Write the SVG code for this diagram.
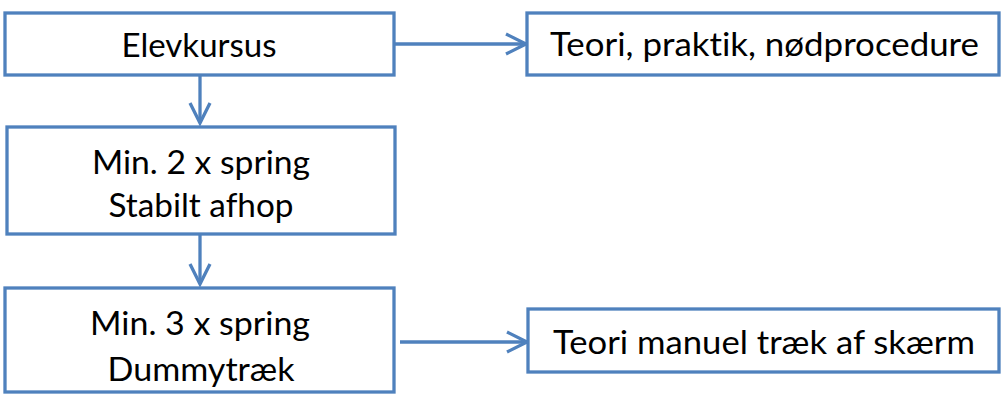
<svg xmlns="http://www.w3.org/2000/svg" width="1002" height="395" viewBox="0 0 1002 395">
<defs>
<style>
.box{fill:#ffffff;stroke:#4F81BD;stroke-width:3.3}
.conn{fill:none;stroke:#4F81BD;stroke-width:3.3}
.lbl{font-family:Lato,"Open Sans","Liberation Sans",sans-serif;font-size:32px;fill:#000000;text-anchor:middle;font-variant-ligatures:none}
</style>
<marker id="arr" viewBox="0 0 20 20" refX="20" refY="10" markerWidth="20" markerHeight="20" markerUnits="userSpaceOnUse" orient="auto" overflow="visible">
<path d="M0,0 L20,10 L0,20" fill="none" stroke="#4F81BD" stroke-width="3.3" stroke-linejoin="miter"/>
</marker>
</defs>
<rect width="1002" height="395" fill="#ffffff"/>
<g id="connectors">
<path class="conn" d="M394,44 H526" marker-end="url(#arr)"/>
<path class="conn" d="M200,75 V123" marker-end="url(#arr)"/>
<path class="conn" d="M200,234 V284" marker-end="url(#arr)"/>
<path class="conn" d="M400,342 H527" marker-end="url(#arr)"/>
</g>
<g id="node-elevkursus">
<rect class="box" x="5" y="13" width="389" height="62"/>
<text class="lbl" x="199" y="57" textLength="155" lengthAdjust="spacingAndGlyphs">Elevkursus</text>
</g>
<g id="node-teori-praktik">
<rect class="box" x="527" y="13" width="472" height="62"/>
<text class="lbl" x="764.5" y="56" textLength="429" lengthAdjust="spacingAndGlyphs">Teori, praktik, nødprocedure</text>
</g>
<g id="node-min2">
<rect class="box" x="7" y="127" width="388" height="107"/>
<text class="lbl" x="201" y="173.5" textLength="218" lengthAdjust="spacingAndGlyphs">Min. 2 x spring</text>
<text class="lbl" x="201" y="216.5" textLength="185" lengthAdjust="spacingAndGlyphs">Stabilt afhop</text>
</g>
<g id="node-min3">
<rect class="box" x="5" y="288" width="389" height="104"/>
<text class="lbl" x="200" y="335" textLength="220" lengthAdjust="spacingAndGlyphs">Min. 3 x spring</text>
<text class="lbl" x="201" y="381" textLength="187" lengthAdjust="spacingAndGlyphs">Dummytræk</text>
</g>
<g id="node-teori-manuel">
<rect class="box" x="528" y="309" width="471" height="63"/>
<text class="lbl" x="764" y="354" textLength="422" lengthAdjust="spacingAndGlyphs">Teori manuel træk af skærm</text>
</g>
</svg>
